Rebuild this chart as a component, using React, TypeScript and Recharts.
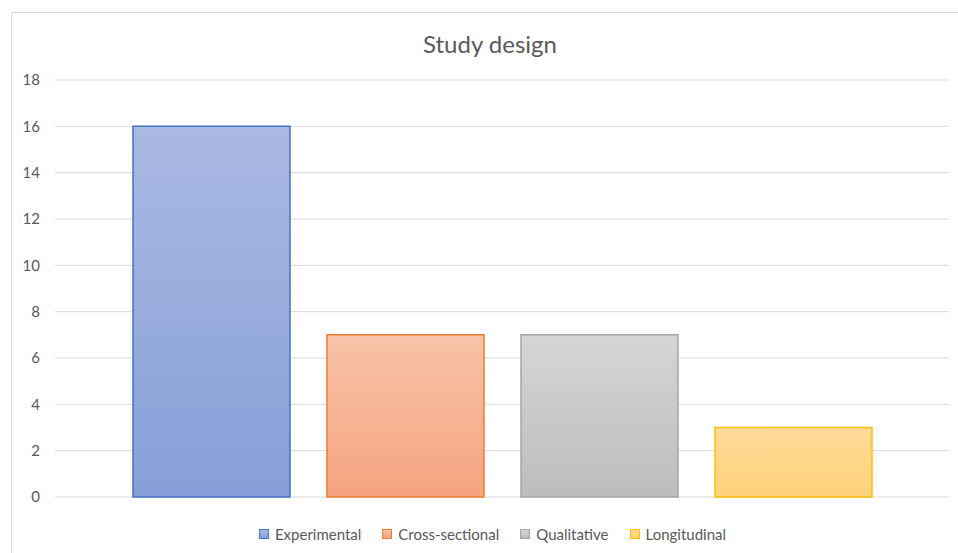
import React from "react";
import { BarChart, Bar, XAxis, YAxis, CartesianGrid } from "recharts";

const categories = ["Study design"];
const seriesNames = ["Experimental", "Cross-sectional", "Qualitative", "Longitudinal"];
const seriesValues = [16, 7, 7, 3];
const yTicks = [0, 2, 4, 6, 8, 10, 12, 14, 16, 18];

// top colour, bottom colour, border colour
const SERIES_COLORS = [
  { top: "#AAB9E2", bottom: "#869FD8", stroke: "#4472C4" },
  { top: "#F8C3A9", bottom: "#F5A37E", stroke: "#ED7D31" },
  { top: "#D5D5D5", bottom: "#BDBDBD", stroke: "#A5A5A5" },
  { top: "#FFDB9A", bottom: "#FFD27A", stroke: "#FFC000" },
];

const FONT = "Lato, 'Open Sans', sans-serif";

const chartData = categories.map((c) => {
  const row: Record<string, string | number> = { name: c };
  seriesNames.forEach((s, i) => {
    row[s] = seriesValues[i];
  });
  return row;
});

function ChartLegend() {
  return (
    <div
      style={{
        position: "absolute",
        left: 0,
        width: 985,
        top: 525,
        display: "flex",
        justifyContent: "center",
        gap: 21,
        fontFamily: FONT,
        fontSize: 15,
        color: "#595959",
      }}
    >
      {seriesNames.map((s, i) => (
        <div key={s} style={{ display: "flex", alignItems: "center", gap: 6 }}>
          <span
            style={{
              width: 8,
              height: 8,
              border: `1px solid ${SERIES_COLORS[i].stroke}`,
              background: `linear-gradient(${SERIES_COLORS[i].top}, ${SERIES_COLORS[i].bottom})`,
              display: "inline-block",
            }}
          />
          <span>{s}</span>
        </div>
      ))}
    </div>
  );
}

export default function App() {
  return (
    <div style={{ position: "absolute", left: 0, top: 0, width: 958, height: 553, overflow: "hidden", background: "#fff" }}>
      <div
        style={{
          position: "absolute",
          left: 11,
          top: 12,
          width: 970,
          height: 600,
          border: "1px solid #D9D9D9",
        }}
      />
      <div
        style={{
          position: "absolute",
          left: 0,
          width: 980,
          top: 29,
          textAlign: "center",
          fontFamily: FONT,
          fontSize: 24,
          color: "#595959",
        }}
      >
        Study design
      </div>
      <BarChart
        width={958}
        height={553}
        data={chartData}
        margin={{ top: 80, right: 9, left: 0, bottom: 56 }}
        barCategoryGap={78}
        barGap={37}
        style={{ position: "absolute", left: 0, top: 0 }}
      >
        <defs>
          {SERIES_COLORS.map((c, i) => (
            <linearGradient key={i} id={`grad${i}`} x1="0" y1="0" x2="0" y2="1">
              <stop offset="0%" stopColor={c.top} />
              <stop offset="100%" stopColor={c.bottom} />
            </linearGradient>
          ))}
        </defs>
        <CartesianGrid vertical={false} stroke="#D9D9D9" strokeWidth={1} />
        <XAxis dataKey="name" hide />
        <YAxis
          width={55}
          domain={[0, 18]}
          ticks={yTicks}
          axisLine={false}
          tickLine={false}
          tickSize={0}
          tickMargin={15}
          tick={{ fill: "#595959", fontSize: 15, fontFamily: FONT }}
        />
        {seriesNames.map((s, i) => (
          <Bar
            key={s}
            dataKey={s}
            fill={`url(#grad${i})`}
            stroke={SERIES_COLORS[i].stroke}
            strokeWidth={1.5}
            isAnimationActive={false}
          />
        ))}
      </BarChart>
      <ChartLegend />
    </div>
  );
}
